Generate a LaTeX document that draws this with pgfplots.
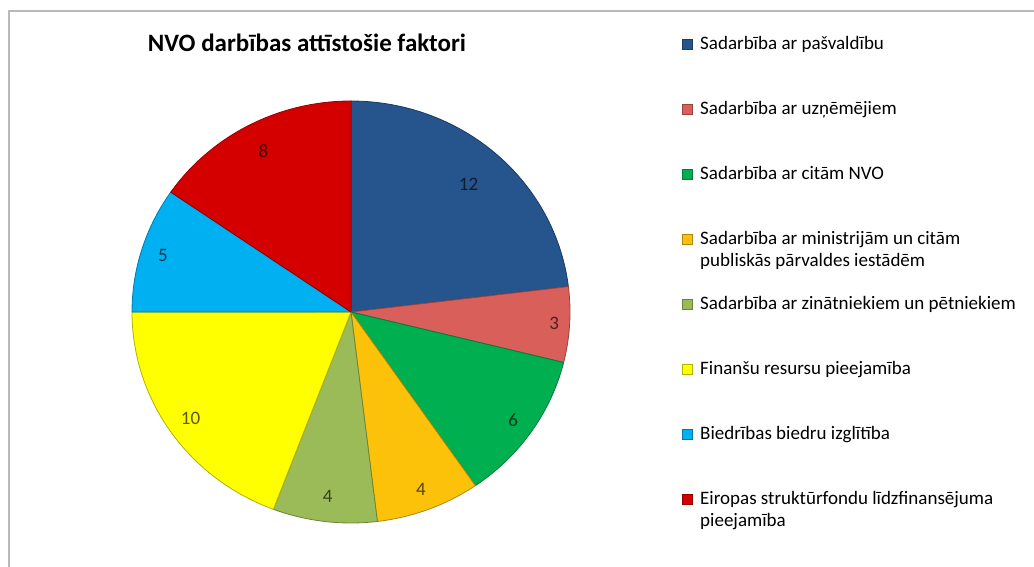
\documentclass[border=0pt]{standalone}
\usepackage{fontspec}
\setmainfont{Carlito}
\usepackage{pgfplots}
\pgfplotsset{compat=1.18}
\definecolor{cA}{RGB}{38,84,140}
\definecolor{cB}{RGB}{217,95,90}
\definecolor{cC}{RGB}{0,176,80}
\definecolor{cD}{RGB}{252,194,10}
\definecolor{cE}{RGB}{155,187,89}
\definecolor{cF}{RGB}{255,255,0}
\definecolor{cG}{RGB}{0,176,240}
\definecolor{cH}{RGB}{212,0,0}
% #1 cumulative start, #2 value, #3 colour, #4 label radius fraction, #5 legend text
\newcommand\slice[5]{%
  \addplot[fill=#3, draw=#3!70!black, line width=0.4pt,
    domain=#1*360/52:(#1+#2)*360/52, samples=60]
    ({351+219*sin(x)},{255+211*cos(x)}) -- (axis cs:351,255) -- cycle;
  \addlegendentry{#5}
  \node[text=#3!35!black, font=\fontsize{9.5}{9.5}\selectfont]
    at (axis cs:{351+219*#4*sin((#1+#2/2)*360/52)},{255+211*#4*cos((#1+#2/2)*360/52)}) {#2};
}
\begin{document}
\begin{tikzpicture}
\begin{axis}[
  at={(0,0)}, anchor=south west,
  scale only axis, width=517pt, height=283.5pt,
  xmin=0, xmax=1034, ymin=0, ymax=567,
  hide axis, clip=false,
  legend image code/.code={\draw[#1] (0pt,-2.5pt) rectangle (5pt,2.5pt);},
  legend style={draw=none, fill=none,
    at={(rel axis cs:0.6538,0.9418)}, anchor=north west,
    font=\fontsize{9.5}{11}\selectfont,
    nodes={inner sep=0pt, text height=6pt, text depth=1.5pt},
    row sep=25pt, column sep=3.5pt},
  legend cell align=left,
]
\slice{0}{12}{cA}{0.81}{Sadarbība ar pašvaldību}
\slice{12}{3}{cB}{0.93}{Sadarbība ar uzņēmējiem}
\slice{15}{6}{cC}{0.9}{Sadarbība ar citām NVO}
\slice{21}{4}{cD}{0.9}{\smash{\parbox[t]{6cm}{Sadarbība ar ministrijām un citām\\publiskās pārvaldes iestādēm}}}
\slice{25}{4}{cE}{0.88}{Sadarbība ar zinātniekiem un pētniekiem}
\slice{29}{10}{cF}{0.89}{Finanšu resursu pieejamība}
\slice{39}{5}{cG}{0.9}{Biedrības biedru izglītība}
\slice{44}{8}{cH}{0.86}{\smash{\parbox[t]{6cm}{Eiropas struktūrfondu līdzfinansējuma\\pieejamība}}}
\node[font=\fontsize{12.5}{14}\selectfont\bfseries] at (axis cs:307,524) {NVO darbības attīstošie faktori};
\draw[gray!55, line width=1pt] (axis cs:9,0) -- (axis cs:9,556) -- (axis cs:1034,556);
\end{axis}
\pgfresetboundingbox
\useasboundingbox (0,0) rectangle (517pt,283.5pt);
\end{tikzpicture}
\end{document}
